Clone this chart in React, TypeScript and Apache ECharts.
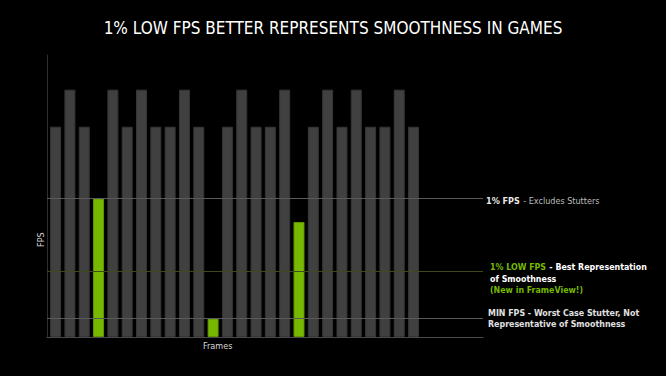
import React, { useEffect, useRef } from "react";
import * as echarts from "echarts";

const frames = [1, 2, 3, 4, 5, 6, 7, 8, 9, 10, 11, 12, 13, 14, 15, 16, 17, 18, 19, 20, 21, 22, 23, 24, 25, 26];
const fps = [85, 100, 85, 56, 100, 85, 100, 85, 85, 100, 85, 7.5, 85, 100, 85, 85, 100, 46.5, 85, 100, 85, 100, 85, 85, 100, 85];
const highlightedFrames = [4, 12, 18];
const refNames = ["1% FPS", "1% LOW FPS", "MIN FPS"];
const refValues = [56, 26.5, 7.5];
const refColors = ["#5a5a5a", "#3c4a1c", "#5a5a5a"];

const GREEN = "#76b900";
const BAR_GRAY = "#404040";

export default function App() {
  const ref = useRef<HTMLDivElement>(null);
  useEffect(() => {
    if (!ref.current) return;
    const chart = echarts.init(ref.current, null, { renderer: "svg" });
    const font = "DejaVu Sans Condensed";
    chart.setOption({
      animation: false,
      backgroundColor: "#000000",
      title: {
        text: "1% LOW FPS BETTER REPRESENTS SMOOTHNESS IN GAMES",
        left: "center",
        top: 14,
        textStyle: { color: "#ffffff", fontSize: 17, fontWeight: "normal", fontFamily: "DejaVu Sans Condensed" },
      },
      grid: { left: 47, right: 183, top: 55, bottom: 39 },
      xAxis: {
        type: "value",
        min: 0.4,
        max: 30.85,
        axisLine: { show: true, lineStyle: { color: "#4a4a4a", width: 1 } },
        axisTick: { show: false },
        axisLabel: { show: false },
        splitLine: { show: false },
      },
      yAxis: {
        type: "value",
        min: 0,
        max: 114,
        axisLine: { show: true, lineStyle: { color: "#303030", width: 1 } },
        axisTick: { show: false },
        axisLabel: { show: false },
        splitLine: { show: false },
      },
      series: [
        {
          type: "bar",
          barWidth: 11,
          data: frames.map((f, i) => {
            const hl = highlightedFrames.includes(f);
            return {
              value: [f, fps[i]],
              itemStyle: {
                color: hl ? GREEN : BAR_GRAY,
                borderColor: hl ? "#5f9400" : "#353535",
                borderWidth: 1,
              },
            };
          }),
          markLine: {
            silent: true,
            symbol: ["none", "none"],
            label: { show: false },
            data: refValues.map((v, i) => ({
              name: refNames[i],
              yAxis: v,
              lineStyle: { color: refColors[i], width: 1, type: "solid" },
            })),
          },
        },
      ],
      graphic: [
        {
          type: "text",
          left: 203,
          top: 341,
          style: { text: "Frames", fill: "#d8d8d8", fontSize: 9, fontFamily: font },
        },
        {
          type: "text",
          x: 36,
          y: 247,
          rotation: Math.PI / 2,
          style: { text: "FPS", fill: "#d8d8d8", fontSize: 9, fontFamily: font },
        },
        {
          type: "text",
          left: 486,
          top: 195,
          style: {
            rich: {
              w: { fill: "#e8e8e8", fontSize: 9, fontWeight: "bold", fontFamily: font },
              g: { fill: "#bdbdbd", fontSize: 9, fontFamily: font },
            },
            text: "{w|1% FPS} {g|- Excludes Stutters}",
          },
        },
        {
          type: "text",
          left: 490,
          top: 261,
          style: {
            lineHeight: 11.5,
            rich: {
              gr: { fill: GREEN, fontSize: 8.8, fontWeight: "bold", fontFamily: font, lineHeight: 11.5 },
              w: { fill: "#ffffff", fontSize: 8.8, fontWeight: "bold", fontFamily: font, lineHeight: 11.5 },
            },
            text: "{gr|1% LOW FPS} {w|- Best Representation}\n{w|of Smoothness}\n{gr|(New in FrameView!)}",
          },
        },
        {
          type: "text",
          left: 488,
          top: 308,
          style: {
            rich: {
              w: { fill: "#e0e0e0", fontSize: 8.8, fontWeight: "bold", fontFamily: font, lineHeight: 11.5 },
            },
            text: "{w|MIN FPS - Worst Case Stutter, Not}\n{w|Representative of Smoothness}",
          },
        },
      ],
    });
    return () => chart.dispose();
  }, []);
  return <div ref={ref} style={{ width: 666, height: 376, position: "fixed", left: 0, top: 0 }} />;
}
